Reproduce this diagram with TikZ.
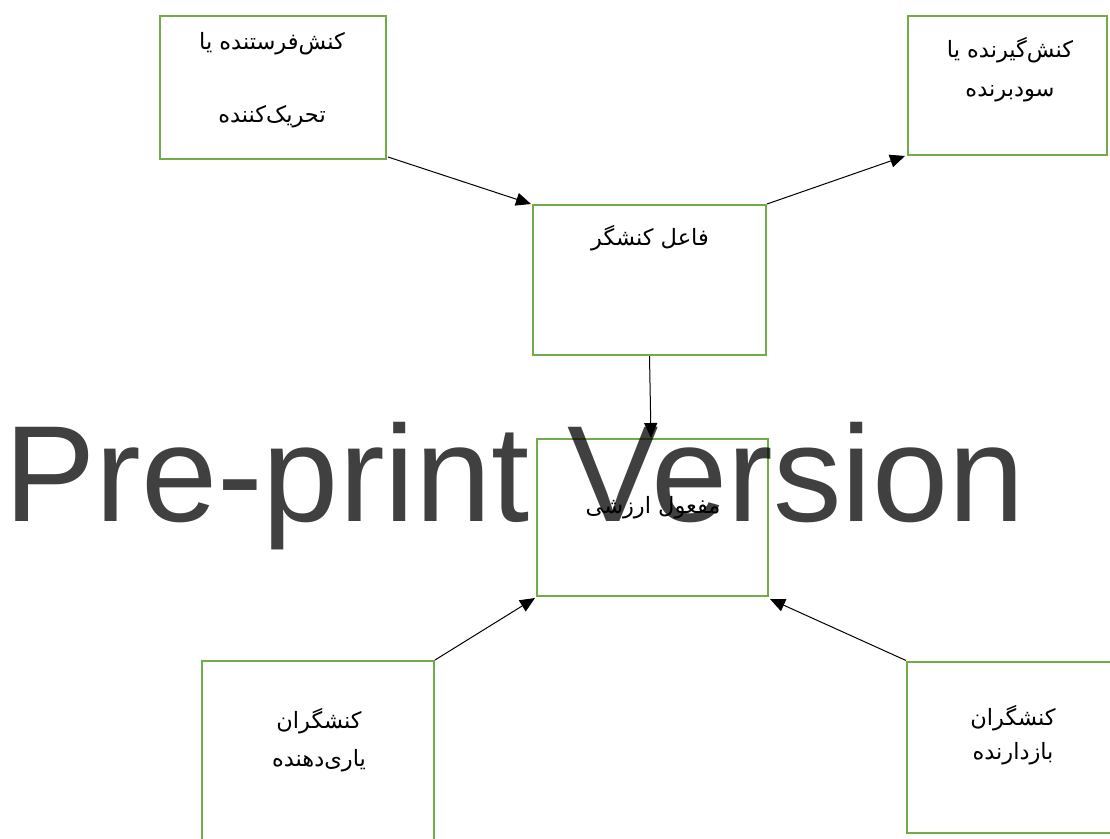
\documentclass[tikz,border=0pt]{standalone}
\usepackage{fontspec}
\setmainfont{Liberation Sans}
\newfontfamily\farsi[Script=Arabic]{DejaVu Sans}
\TeXXeTstate=1
\usetikzlibrary{arrows.meta}
\definecolor{boxgreen}{HTML}{70AD47}
\tikzset{
  box/.style={draw=boxgreen, line width=2pt, fill=white, inner sep=0pt},
  label text/.style={font=\farsi\fontsize{22.5}{22.5}\selectfont, inner sep=0pt, anchor=center},
  link/.style={draw=black, line width=1pt, -{Triangle[length=15pt,width=13pt]}},
  watermark/.style={font=\fontsize{137}{137}\selectfont, text=black, text opacity=0.75, inner sep=0pt, anchor=base west}
}
\begin{document}
\begin{tikzpicture}[x=1pt,y=-1pt]
  \useasboundingbox (0,0) rectangle (1110,838);
  \begin{scope}
  \clip (0,0) rectangle (1110,838);
  % boxes
  \node[box, minimum width=226pt, minimum height=143pt] (A) at (273,87.5) {};
  \node[box, minimum width=199pt, minimum height=139pt] (B) at (1007.5,85.5) {};
  \node[box, minimum width=233pt, minimum height=150pt] (C) at (649.5,280) {};
  \node[box, minimum width=231pt, minimum height=157pt] (D) at (652.5,517.5) {};
  \node[box, minimum width=232pt, minimum height=200pt] (E) at (318,761) {};
  \node[box, minimum width=230pt, minimum height=171pt] (F) at (1022,747) {};

  % box texts
  \node[label text] (a1) at (272,44) {\beginR کنش‌فرستنده یا\endR};
  \node[label text] (a2) at (272,117) {\beginR تحریک‌کننده\endR};
  \node[label text] (b1) at (1010,50) {\beginR کنش‌گیرنده یا\endR};
  \node[label text] (b2) at (1010,94) {\beginR سودبرنده\endR};
  \node[label text] (c1) at (650,238) {\beginR فاعل کنشگر\endR};
  \node[label text] (d1) at (653,508) {\beginR مفعول ارزشی\endR};
  \node[label text] (e1) at (319,721) {\beginR کنشگران\endR};
  \node[label text] (e2) at (319,761) {\beginR یاری‌دهنده\endR};
  \node[label text] (f1) at (1013,718) {\beginR کنشگران\endR};
  \node[label text] (f2) at (1013,754) {\beginR بازدارنده\endR};

  % connectors
  \draw[link] ([xshift=1pt,yshift=3pt]A.south east) -- ([xshift=-1pt]C.north west);
  \draw[link] (C.north east) -- ([xshift=-2pt]B.south west);
  \draw[link] (C.south) -- ([xshift=-1.5pt]D.north);
  \draw[link] (E.north east) -- ([xshift=-1pt,yshift=-1pt]D.south west);
  \draw[link] (F.north west) -- ([xshift=1pt,yshift=-2pt]D.south east);

  % overlay text
  \node[watermark] (wm) at (4,521) {Pre-print Version};
  \end{scope}
\end{tikzpicture}
\end{document}
